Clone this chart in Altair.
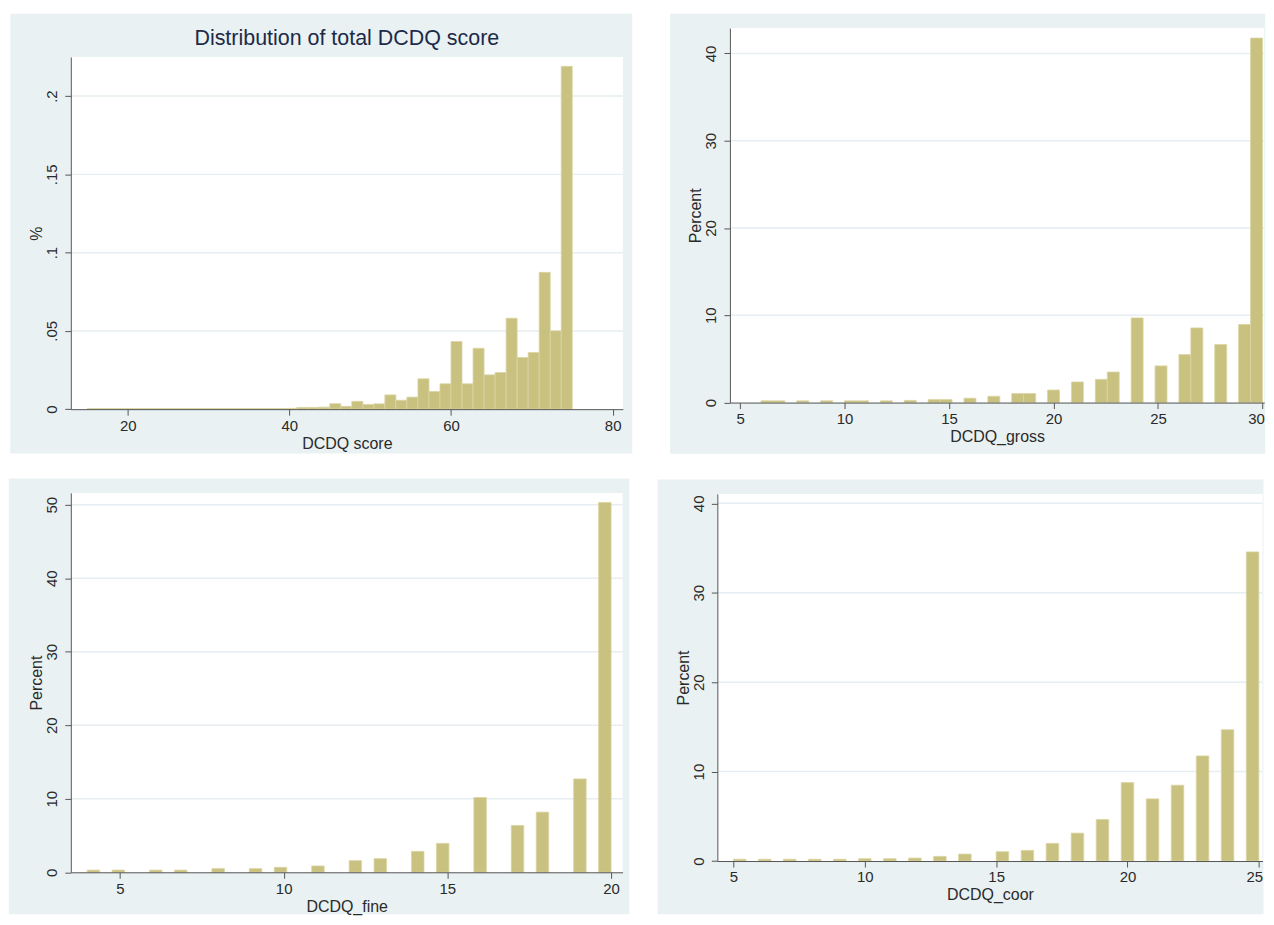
import altair as alt
import numpy as np
import pandas as pd

# ---------------- data ----------------
# Panel 1: total DCDQ score, 44 equal bins from 15 to 75 (density)
total_min, total_max, total_nbins = 15, 75, 44
total_density = [
    0.0004, 0.0004, 0.0004, 0.0004, 0.0004, 0.0004, 0.0004, 0.0004, 0.0004,
    0.0004, 0.0004, 0.0004, 0.0004, 0.0004, 0.0004, 0.0004, 0.0004, 0.0004,
    0.0005, 0.0011, 0.0011, 0.0013, 0.0035, 0.0018, 0.0050, 0.0030, 0.0034,
    0.0091, 0.0057, 0.0077, 0.0194, 0.0113, 0.0162, 0.0432, 0.0162, 0.0389,
    0.0219, 0.0234, 0.0581, 0.0330, 0.0362, 0.0874, 0.0500, 0.2190,
]

# Panel 2: DCDQ_gross (percent per score value), 42 bins over 6..30
gross_min, gross_max, gross_nbins = 6, 30, 42
gross_score = [6, 7, 8, 9, 10, 11, 12, 13, 14, 15, 16, 17, 18, 19, 20, 21, 22, 23, 24, 25, 26, 27, 28, 29, 30]
gross_pct = [0.20, 0.20, 0.20, 0.20, 0.20, 0.20, 0.20, 0.25, 0.35, 0.35, 0.50, 0.72, 1.03, 1.03,
             1.44, 2.36, 2.66, 3.50, 9.70, 4.20, 5.50, 8.55, 6.65, 8.94, 41.75]

# Panel 3: DCDQ_fine, 42 bins over 4..20
fine_min, fine_max, fine_nbins = 4, 20, 42
fine_score = [4, 5, 6, 7, 8, 9, 10, 11, 12, 13, 14, 15, 16, 17, 18, 19, 20]
fine_pct = [0.30, 0.30, 0.30, 0.30, 0.50, 0.50, 0.68, 0.86, 1.58, 1.85, 2.85, 3.93, 10.16, 6.37,
            8.18, 12.70, 50.30]

# Panel 4: DCDQ_coor, 42 bins over 5..25
coor_min, coor_max, coor_nbins = 5, 25, 42
coor_score = [5, 6, 7, 8, 9, 10, 11, 12, 13, 14, 15, 16, 17, 18, 19, 20, 21, 22, 23, 24, 25]
coor_pct = [0.20, 0.20, 0.20, 0.20, 0.20, 0.26, 0.26, 0.33, 0.52, 0.78, 1.04, 1.19, 1.97, 3.12,
            4.65, 8.77, 6.95, 8.48, 11.75, 14.68, 34.57]

# tick labels
total_xticks = [20, 40, 60, 80]
total_yticks = [0, 0.05, 0.1, 0.15, 0.2]
gross_xticks = [5, 10, 15, 20, 25, 30]
gross_yticks = [0, 10, 20, 30, 40]
fine_xticks = [5, 10, 15, 20]
fine_yticks = [0, 10, 20, 30, 40, 50]
coor_xticks = [5, 10, 15, 20, 25]
coor_yticks = [0, 10, 20, 30, 40]

TITLE = "Distribution of total DCDQ score"

# ---------------- styles ----------------
FONT = "Liberation Sans"
BG = "#E9F1F3"
GRID = "#E6EEF1"
BAR = "#C9C17F"
EDGE = "#DAD4A2"
AXIS = "#555555"
TXT = "#2A2A2A"
TITLE_C = "#1D2B48"


def bins_from_edges(lo, hi, n, heights):
    w = (hi - lo) / n
    idx = np.arange(n)
    return pd.DataFrame({"start": lo + idx * w, "end": lo + (idx + 1) * w, "val": heights})


def bins_from_values(lo, hi, n, values, pct):
    w = (hi - lo) / n
    v = np.array(values, dtype=float)
    idx = np.minimum(np.floor((v - lo) / w + 1e-9), n - 1)
    return pd.DataFrame({"start": lo + idx * w, "end": lo + (idx + 1) * w, "val": pct})


one = pd.DataFrame({"k": [0]})


def panel(df, xdom, ydom, xticks, yticks, xtitle, ytitle, W, H, L, R, T, B,
          ytop=0.0, ylabel_expr=None, title=None, last_shift=0.0):
    """W,H: group size; ytop: pixel y (relative to group top) of the top of the plot area."""
    bg = alt.Chart(one).mark_rect(color=BG).encode(
        x=alt.value(-L), x2=alt.value(W + R), y=alt.value(-T), y2=alt.value(H + B))
    white = alt.Chart(one).mark_rect(color="white").encode(
        x=alt.value(0), x2=alt.value(W), y=alt.value(ytop), y2=alt.value(H))
    yscale = alt.Scale(domain=ydom, nice=False, zero=False, range=[H, ytop])
    xscale = alt.Scale(domain=xdom, nice=False, zero=False)

    common = dict(grid=False, zindex=1, domainColor=AXIS, tickColor=AXIS, domainWidth=1,
                  tickWidth=1, tickSize=6, labelFont=FONT, labelFontSize=15, labelColor=TXT,
                  titleFont=FONT, titleFontSize=16, titleFontWeight="normal", titleColor=TXT,
                  labelFlush=False, labelOverlap=False)
    xargs = dict(values=xticks, title=xtitle, labelPadding=3, titlePadding=2, **common)
    if last_shift:
        xargs["labelOffset"] = {"condition": {"test": f"datum.value == {xticks[-1]}",
                                              "value": last_shift}, "value": 0}
    xaxis = alt.Axis(**xargs)
    yargs = dict(values=yticks, title=ytitle, labelAngle=270, labelAlign="center",
                 labelBaseline="bottom", labelPadding=5, titlePadding=0, **common)
    if ylabel_expr:
        yargs["labelExpr"] = ylabel_expr
    yaxis = alt.Axis(**yargs)

    grid = alt.Chart(pd.DataFrame({"val": [t for t in yticks if t > 0]})).mark_rule(
        color=GRID, strokeWidth=1.5).encode(
        y=alt.Y("val:Q", scale=yscale, axis=yaxis), x=alt.value(0), x2=alt.value(W))

    bars = alt.Chart(df).mark_rect(color=BAR, stroke=EDGE, strokeWidth=0.8).encode(
        x=alt.X("start:Q", scale=xscale, axis=xaxis),
        x2="end:Q",
        y=alt.Y("val:Q", scale=yscale, axis=yaxis),
        y2=alt.datum(0),
    )
    layers = [bg, white, grid, bars]
    if title:
        t = alt.Chart(pd.DataFrame({"t": [title]})).mark_text(
            font=FONT, fontSize=21.5, color=TITLE_C, align="center", baseline="middle").encode(
            text="t:N", x=alt.value(W / 2), y=alt.value(-18.3))
        layers.append(t)
    return alt.layer(*layers).properties(width=W, height=H)


# Row 1: both groups start at page y = 55 (top of panel-1 plot area)
p1 = panel(bins_from_edges(total_min, total_max, total_nbins, total_density),
           [12.96, 81.26], [0, 0.225], total_xticks, total_yticks, "DCDQ score", "%",
           W=553.8, H=353.3, L=60.6, R=9.4, T=43.3, B=44.4,
           ylabel_expr="datum.value == 0 ? '0' : replace(toString(datum.value), '0.', '.')",
           title=TITLE)

p2 = panel(bins_from_values(gross_min, gross_max, gross_nbins, gross_score, gross_pct),
           [4.513, 30.081], [0, 42.9], gross_xticks, gross_yticks, "DCDQ_gross", "Percent",
           W=536, H=346.7, L=60, R=1, T=43.3, B=51.3, ytop=-29, last_shift=-6.5)

p3 = panel(bins_from_values(fine_min, fine_max, fine_nbins, fine_score, fine_pct),
           [3.5, 20.35], [0, 51.6], fine_xticks, fine_yticks, "DCDQ_fine", "Percent",
           W=553.5, H=380.6, L=62.2, R=6.9, T=14.4, B=42.0)

p4 = panel(bins_from_values(coor_min, coor_max, coor_nbins, coor_score, coor_pct),
           [4.385, 25.14], [0, 41.06], coor_xticks, coor_yticks, "DCDQ_coor", "Percent",
           W=546.9, H=369.3, L=59.9, R=1, T=13.4, B=53.3, ytop=1.0, last_shift=-4.5)

row1 = alt.hconcat(p1, p2, spacing=37.2)
row2 = alt.hconcat(p3, p4, spacing=27.6)
chart = alt.vconcat(row1, row2, spacing=24.3).properties(
    padding={"left": 0, "top": 3.7, "right": 0, "bottom": 0}
).configure(background="white").configure_view(strokeWidth=0)

chart.save("out.html", embed_options={"renderer": "svg", "actions": False})
